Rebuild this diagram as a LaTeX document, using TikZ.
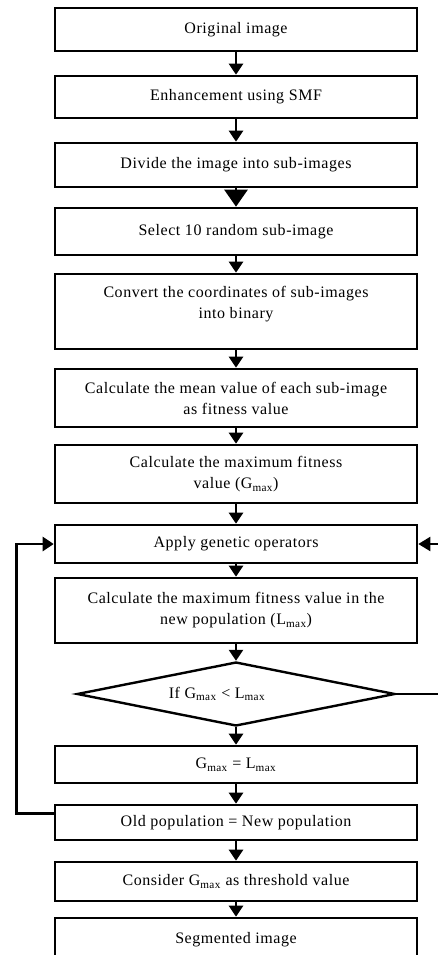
\documentclass[tikz,border=0pt]{standalone}
\usepackage{fontspec}
\setmainfont[LetterSpace=3.5]{Liberation Serif}
\usetikzlibrary{arrows.meta,shapes.geometric}
\begin{document}
\begin{tikzpicture}[x=1pt,y=-1pt,
  txt/.style={align=center,font=\fontsize{16}{21}\selectfont},
  box/.style={txt,draw,line width=2.6pt,minimum width=362pt,inner sep=0pt},
  flow/.style={line width=2.6pt,-{Triangle[width=14pt,length=11pt]}},
  bigflow/.style={line width=2.6pt,-{Triangle[width=23pt,length=17pt]}},
  back/.style={line width=2pt,-{Triangle[width=14pt,length=12pt]}}]
\clip (0,0) rectangle (438,955);
\fill[white] (0,0) rectangle (438,955);
\node[box,minimum height=43pt] (b1) at (236,29.5) {Original image};
\node[box,minimum height=42pt] (b2) at (236,97) {Enhancement using SMF};
\node[box,minimum height=44pt] (b3) at (236,165) {Divide the image into sub-images};
\node[box,minimum height=47pt] (b4) at (236,231.5) {Select 10 random sub-image};
\node[box,minimum height=75pt] (b5) at (236,311.5) {};
\node[txt] (b5t) at (236,304.5) {Convert the coordinates of sub-images\\into binary};
\node[box,minimum height=58pt] (b6) at (236,398) {Calculate the mean value of each sub-image\\as fitness value};
\node[box,minimum height=58pt] (b7) at (236,474) {Calculate the maximum fitness\\value (G\textsubscript{max})};
\node[box,minimum height=38pt] (b8) at (236,544) {Apply genetic operators};
\node[box,minimum height=65pt] (b9) at (236,610.5) {Calculate the maximum fitness value in the\\new population (L\textsubscript{max})};
\node[txt,diamond,draw,line width=2.4pt,inner sep=0pt,aspect=5,minimum width=318pt,minimum height=64pt] (dia) at (236,694) {\hspace*{-38pt}If G\textsubscript{max} < L\textsubscript{max}};
\node[box,minimum height=37pt] (b10) at (236,764.5) {G\textsubscript{max} = L\textsubscript{max}};
\node[box,minimum height=35pt] (b11) at (236,822.5) {Old population = New population};
\node[box,minimum height=39pt] (b12) at (236,881.5) {Consider G\textsubscript{max} as threshold value};
\node[box,minimum height=44pt] (b13) at (236,940) {Segmented image};
\draw[flow] (b1) -- (b2);
\draw[flow] (b2) -- (b3);
\draw[bigflow] (b3) -- (b4);
\draw[flow] (b4) -- (b5);
\draw[flow] (b5) -- (b6);
\draw[flow] (b6) -- (b7);
\draw[flow] (b7) -- (b8);
\draw[flow] (b8) -- (b9);
\draw[flow] (b9) -- (dia);
\draw[flow] (dia) -- (b10);
\draw[flow] (b10) -- (b11);
\draw[flow] (b11) -- (b12);
\draw[flow] (b12) -- (b13);
\draw[flow] ([yshift=-10pt]b11.north west) -- ++(-37,0) |- (b8.west);
\draw[back] (dia.east) -- ++(60,0) |- (b8.east);
\end{tikzpicture}
\end{document}
